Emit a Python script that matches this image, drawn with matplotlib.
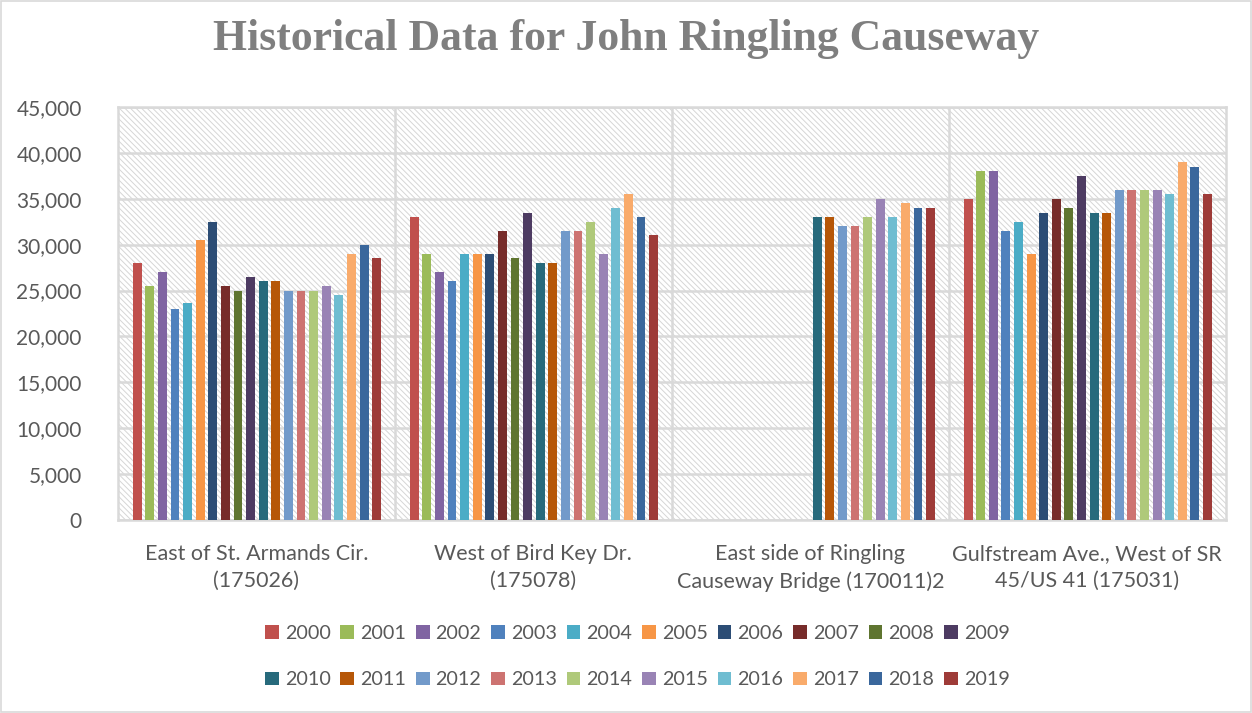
import numpy as np
import matplotlib
matplotlib.use("Agg")
import matplotlib.pyplot as plt
from matplotlib.patches import Rectangle

plt.rcParams['font.family'] = ['Lato', 'DejaVu Sans']
plt.rcParams['hatch.linewidth'] = 0.7

categories = ["East of St. Armands Cir.\n(175026)",
              "West of Bird Key Dr.\n(175078)",
              "East side of Ringling\nCauseway Bridge (170011)2",
              "Gulfstream Ave., West of SR\n45/US 41 (175031)"]
years = [str(y) for y in range(2000, 2020)]

nan = np.nan
# one row per year, one column per station
counts = {
    "2000": [28000, 33000, nan, 35000],
    "2001": [25500, 29000, nan, 38000],
    "2002": [27000, 27000, nan, 38000],
    "2003": [23000, 26000, nan, 31500],
    "2004": [23600, 29000, nan, 32500],
    "2005": [30500, 29000, nan, 29000],
    "2006": [32500, 29000, nan, 33500],
    "2007": [25500, 31500, nan, 35000],
    "2008": [25000, 28500, nan, 34000],
    "2009": [26500, 33500, nan, 37500],
    "2010": [26000, 28000, 33000, 33500],
    "2011": [26000, 28000, 33000, 33500],
    "2012": [25000, 31500, 32000, 36000],
    "2013": [25000, 31500, 32000, 36000],
    "2014": [25000, 32500, 33000, 36000],
    "2015": [25500, 29000, 35000, 36000],
    "2016": [24500, 34000, 33000, 35500],
    "2017": [29000, 35500, 34500, 39000],
    "2018": [30000, 33000, 34000, 38500],
    "2019": [28500, 31000, 34000, 35500],
}

colors = ["#C0504D", "#9BBB59", "#8064A2", "#4F81BD", "#4BACC6", "#F79646",
          "#2C4D75", "#772C2A", "#5F7530", "#4D3B62", "#276A7C", "#B65708",
          "#729ACA", "#CD7371", "#AFC97A", "#9983B5", "#6FBDD1", "#F9AB6B",
          "#3A679C", "#9E3B38"]

fig = plt.figure(figsize=(12.52, 7.13), dpi=100)
ax = fig.add_axes([0.0942, 0.2707, 0.8848, 0.5793])

# hatched plot area
ax.add_patch(Rectangle((0, 0), 1, 1, transform=ax.transAxes, facecolor="white",
                       edgecolor="#d6d6d6", hatch="\\\\\\\\\\\\", lw=0, zorder=0))

slot = 0.0455
bw = 0.032
x0 = np.arange(len(categories))
start = 0.047 + slot / 2 - 0.5
handles = []
for i, yr in enumerate(years):
    h = ax.bar(x0 + start + i * slot, counts[yr], width=bw, color=colors[i],
               label=yr, zorder=3)
    handles.append(h)

ax.set_xlim(-0.5, len(categories) - 0.5)
ax.set_ylim(0, 45000)
ax.set_yticks(np.arange(0, 45001, 5000))
ax.yaxis.set_major_formatter(matplotlib.ticker.FuncFormatter(lambda v, p: f"{int(v):,}"))
ax.grid(axis="y", color="#d9d9d9", lw=1.8, zorder=1)
for b in np.arange(0.5, len(categories) - 0.5, 1):
    ax.axvline(b, color="#d9d9d9", lw=1.8, zorder=1)
for s in ax.spines.values():
    s.set_color("#d9d9d9")
    s.set_linewidth(1.8)
ax.set_xticks(x0)
ax.set_xticklabels(categories, fontsize=15.5, color="#595959", linespacing=1.45)
ax.tick_params(axis="x", length=0, pad=17)
ax.tick_params(axis="y", length=0, pad=26, labelsize=15, labelcolor="#595959")

fig.text(0.5, 0.945, "Historical Data for John Ringling Causeway", ha="center", va="center",
         fontsize=31.5, fontweight="bold", color="#7f7f7f", family="Liberation Serif")

# legend fills column-wise, so interleave to get 2000-2009 on the first row
order = [k for pair in zip(range(10), range(10, 20)) for k in pair]
fig.legend([handles[k] for k in order], [years[k] for k in order],
           loc="center", bbox_to_anchor=(0.509, 0.079), ncol=10, frameon=False,
           fontsize=14.2, handlelength=0.7, handleheight=0.7, handletextpad=0.3,
           columnspacing=0.5, labelspacing=1.5, labelcolor="#595959")

fig.patches.append(Rectangle((0.001, 0.001), 0.998, 0.998, transform=fig.transFigure,
                             fill=False, edgecolor="#d9d9d9", lw=1.2))

fig.savefig("out.png", dpi=100)
